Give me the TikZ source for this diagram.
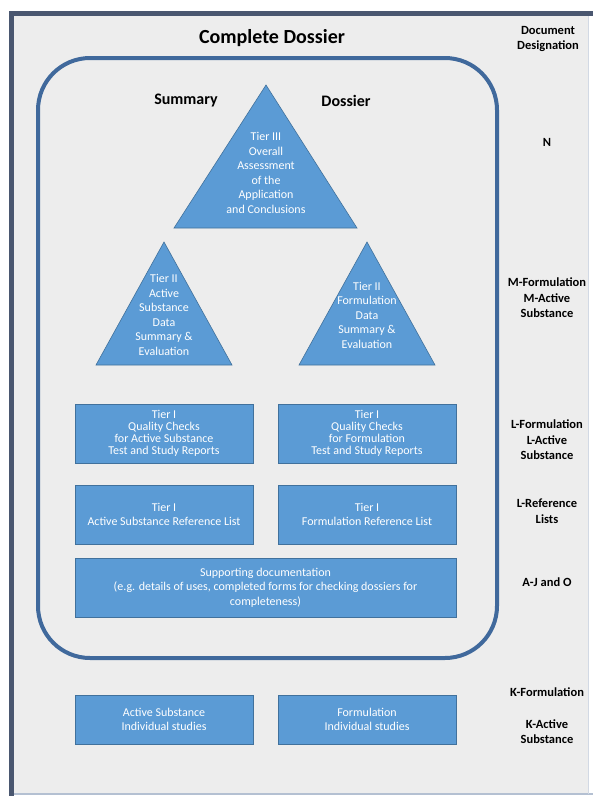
\documentclass[tikz,border=0pt]{standalone}
\usepackage{fontspec}
\setmainfont{Carlito}
\definecolor{tierblue}{HTML}{5B9BD5}
\definecolor{tieredge}{HTML}{41719C}
\definecolor{framegrey}{HTML}{EDEDED}
\definecolor{framedark}{HTML}{4A5770}
\definecolor{framelight}{HTML}{B4C0D2}
\definecolor{ringblue}{HTML}{40699C}
\tikzset{
    tierbox/.style={fill=tierblue, draw=tieredge, line width=0.6pt, text=white, align=center,
        inner sep=0pt, font=\fontsize{12}{14.5}\selectfont},
    tiertri/.style={fill=tierblue, draw=tieredge, line width=0.6pt},
    tiertext/.style={text=white, align=center, font=\fontsize{12}{14.5}\selectfont},
    designation/.style={align=center, font=\bfseries\fontsize{12.5}{15.5}\selectfont},
}
\begin{document}
\begin{tikzpicture}[x=1pt, y=-1pt]
    \useasboundingbox (0, 0) rectangle (593, 796);
    % frame
    \fill[framegrey] (12, 13) rectangle (588, 794);
    \draw[framelight, line width=1.2pt] (12, 794) to (593, 794);
    \draw[framelight!60, line width=0.6pt] (588, 16) to (588, 794);
    \draw[framedark, line width=5pt] (9, 13.5) to (593, 13.5);
    \draw[framedark, line width=5pt] (11.5, 11) to (11.5, 796);
        \node (title) at (272, 38){\bfseries\fontsize{20}{22}\selectfont Complete Dossier};
    % dossier ring
    \draw[ringblue, line width=4pt, rounded corners=52pt] (38, 58) rectangle (497, 658);
        \node (summary) at (186, 101){\bfseries\fontsize{16}{18}\selectfont Summary};
        \node (dossier) at (346, 101){\bfseries\fontsize{16}{18}\selectfont Dossier};
    % tier III
    \draw[tiertri] (266, 85) to (357, 228) to (174, 228) -- cycle;
        \node[tiertext] (tierthree) at (266, 173){Tier III\\Overall\\Assessment\\of the\\Application\\and Conclusions};
    % tier II
    \draw[tiertri] (164, 242) to (232, 365) to (96, 365) -- cycle;
        \node[tiertext] (tiertwoas) at (164, 315){Tier II\\Active\\Substance\\Data\\Summary \&\\Evaluation};
    \draw[tiertri] (367, 242) to (435, 365) to (299, 365) -- cycle;
        \node[tiertext] (tiertwof) at (367, 315){Tier II\\Formulation\\Data\\Summary \&\\Evaluation};
    % tier I
    \node[tierbox, minimum width=178pt, minimum height=59pt, font=\fontsize{12}{12}\selectfont] (checksas) at (164, 433.5)
        {Tier I\\Quality Checks\\for Active Substance\\Test and Study Reports};
    \node[tierbox, minimum width=178pt, minimum height=59pt, font=\fontsize{12}{12}\selectfont] (checksf) at (367, 433.5)
        {Tier I\\Quality Checks\\for Formulation\\Test and Study Reports};
    \node[tierbox, minimum width=178pt, minimum height=59pt] (refas) at (164, 514.5)
        {Tier I\\Active Substance Reference List};
    \node[tierbox, minimum width=178pt, minimum height=59pt] (reff) at (367, 514.5)
        {Tier I\\Formulation Reference List};
    \node[tierbox, minimum width=381pt, minimum height=59pt] (support) at (265.5, 587.5)
        {Supporting documentation\\(e.g. details of uses, completed forms for checking dossiers for\\completeness)};
    % individual studies
    \node[tierbox, minimum width=178pt, minimum height=49pt] (studiesas) at (164, 719.5)
        {Active Substance\\Individual studies};
    \node[tierbox, minimum width=178pt, minimum height=49pt] (studiesf) at (367, 719.5)
        {Formulation\\Individual studies};
    % designations
    \node[designation] (desig) at (548, 39){Document\\Designation};
    \node[designation] (desn) at (547, 142){N};
    \node[designation] (desm) at (547, 298){M-Formulation\\M-Active\\Substance};
    \node[designation] (desl) at (547, 440){L-Formulation\\L-Active\\Substance};
    \node[designation] (deslref) at (547, 511){L-Reference\\Lists};
    \node[designation] (desaj) at (547, 582){A-J and O};
    \node[designation] (deskf) at (547, 692){K-Formulation};
    \node[designation] (deska) at (547, 731.5){K-Active\\Substance};
\end{tikzpicture}
\end{document}
